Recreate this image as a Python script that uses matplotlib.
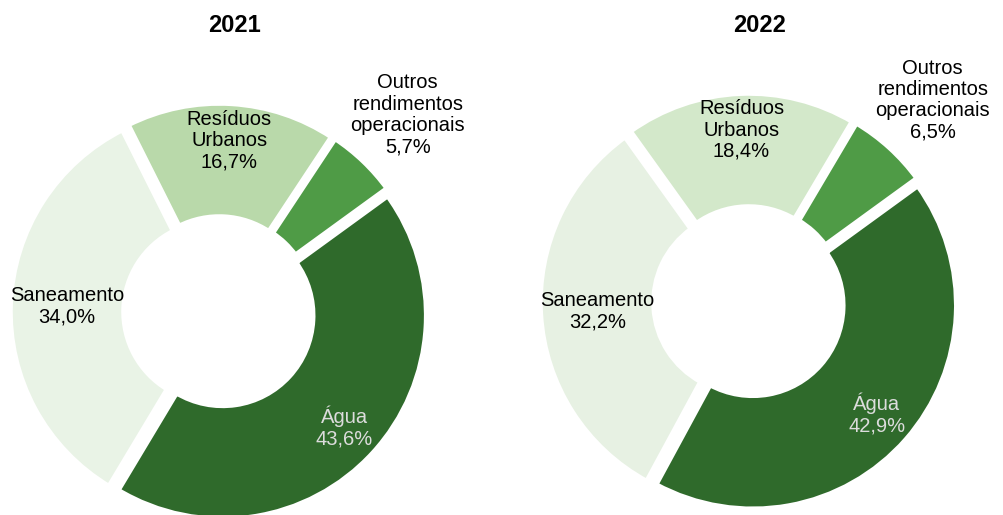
import matplotlib

matplotlib.use("Agg")
import matplotlib.pyplot as plt
import numpy as np

# shares per year, same category order in both (clockwise from the upper right)
categories = ["Água", "Saneamento", "Resíduos\nUrbanos", "Outros\nrendimentos\noperacionais"]
years = ["2021", "2022"]
shares_2021 = [43.6, 34.0, 16.7, 5.7]
shares_2022 = [42.9, 32.2, 18.4, 6.5]

colors_2021 = ["#2f6a2b", "#e9f3e6", "#b9d9aa", "#4f9b46"]
colors_2022 = ["#2f6a2b", "#e7f1e3", "#d3e8ca", "#4f9b46"]
text_colors = ["#dcdcdc", "black", "black", "black"]
label_radius = [170, 152, 172, 273]

W, H = 1004, 515
fig = plt.figure(figsize=(W / 100, H / 100), dpi=100)
ax = fig.add_axes([0, 0, 1, 1])
ax.set_xlim(0, W)
ax.set_ylim(0, H)
ax.axis("off")

font = "Liberation Sans"
centers = [(219, H - 312), (749, H - 302)]
title_x = [235, 760]
R_OUT, R_IN = 204, 90

for shares, colors, year, (cx, cy), tx in zip(
    [shares_2021, shares_2022], [colors_2021, colors_2022], years, centers, title_x
):
    wedges, _ = ax.pie(
        shares,
        colors=colors,
        startangle=36,
        counterclock=False,
        radius=R_OUT,
        center=(cx, cy),
        explode=[5] * len(shares),
        frame=True,
        wedgeprops=dict(width=R_OUT - R_IN, edgecolor="white", linewidth=4),
    )
    for w, name, val, tc, r in zip(wedges, categories, shares, text_colors, label_radius):
        mid = np.deg2rad((w.theta1 + w.theta2) / 2)
        txt = f"{name}\n{val:.1f}%".replace(".", ",")
        ax.text(cx + r * np.cos(mid), cy + r * np.sin(mid), txt, ha="center", va="center",
                fontsize=14.5, family=font, color=tc, linespacing=1.15)
    ax.text(tx, H - 25, year, ha="center", va="center", fontsize=17,
            fontweight="bold", family=font)

ax.set_xlim(0, W)
ax.set_ylim(0, H)
fig.savefig("out.png", dpi=100)
